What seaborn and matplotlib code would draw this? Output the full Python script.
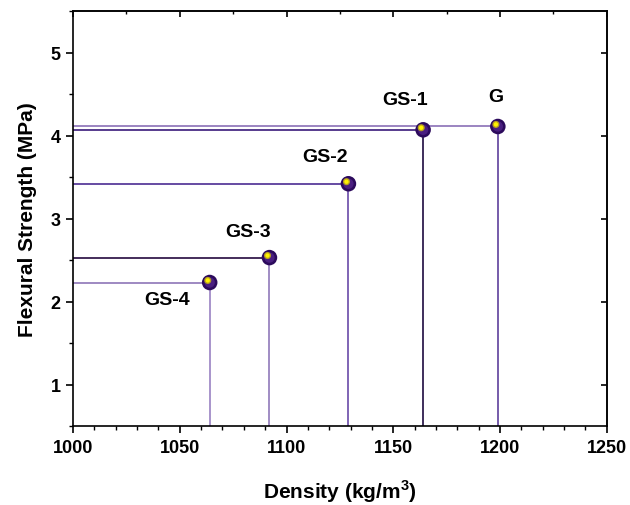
import numpy as np
import matplotlib
matplotlib.use('Agg')
import matplotlib.pyplot as plt
import seaborn as sns
from matplotlib.ticker import MultipleLocator
import pandas as pd

# data
samples = ['G', 'GS-1', 'GS-2', 'GS-3', 'GS-4']
density = [1199, 1164, 1129, 1092, 1064]
strength = [4.11, 4.07, 3.42, 2.53, 2.23]

# drop-line colours per sample (vertical, horizontal)
vcolors = ['#5e3f9c', '#1e0a40', '#6a4aa8', '#9079ba', '#9a82c2']
hcolors = ['#8a70b6', '#3a1a7a', '#4c2c92', '#24083e', '#8e76b8']

# label offsets in pixels from each point
label_off = [(-2, 30), (-18, 30), (-23, 27), (-21, 26), (-43, -17)]

sns.set_theme(style='white')
plt.rcParams['font.family'] = ['Liberation Sans', 'DejaVu Sans']
plt.rcParams['font.weight'] = 'bold'
plt.rcParams['text.color'] = 'black'
plt.rcParams['axes.labelcolor'] = 'black'
plt.rcParams['xtick.color'] = 'black'
plt.rcParams['ytick.color'] = 'black'
plt.rcParams['mathtext.fontset'] = 'custom'
plt.rcParams['mathtext.rm'] = 'Liberation Sans:bold'
plt.rcParams['mathtext.bf'] = 'Liberation Sans:bold'

df = pd.DataFrame({'sample': samples, 'density': density, 'strength': strength})

fig = plt.figure(figsize=(6.3, 5.06), dpi=100)
ax = fig.add_axes([0.116, 0.156, 0.847, 0.820])

xmin, xmax = 1000, 1250
ymin, ymax = 0.5, 5.5

for i, row in df.iterrows():
    ax.vlines(row['density'], ymin, row['strength'], color=vcolors[i], lw=1.2, zorder=2)
    ax.hlines(row['strength'], xmin, row['density'], color=hcolors[i], lw=1.2, zorder=2)

# sphere-like markers: dark base, soft mid tone, yellow highlight
sns.scatterplot(data=df, x='density', y='strength', s=125, color='#2c0a5c',
                edgecolor='none', ax=ax, zorder=3, legend=False)
sns.scatterplot(data=df, x='density', y='strength', s=55, color='#4a1f80',
                edgecolor='none', ax=ax, zorder=4, legend=False)
hx = [d - 0.9 for d in density]
hy = [s + 0.025 for s in strength]
ax.scatter(hx, hy, s=26, color='#b8a020', edgecolor='none', zorder=5)
ax.scatter(hx, hy, s=10, color='#fff200', edgecolor='none', zorder=6)

for i, row in df.iterrows():
    ax.annotate(row['sample'], (row['density'], row['strength']),
                xytext=label_off[i], textcoords='offset pixels',
                ha='center', va='center', fontsize=14, fontweight='bold')

ax.set_xlim(xmin, xmax)
ax.set_ylim(ymin, ymax)
ax.xaxis.set_major_locator(MultipleLocator(50))
ax.xaxis.set_minor_locator(MultipleLocator(10))
ax.yaxis.set_major_locator(MultipleLocator(1))
ax.yaxis.set_minor_locator(MultipleLocator(0.5))

ax.set_xlabel(r'Density (kg/m$^{3}$)', fontsize=15, fontweight='bold', labelpad=16)
ax.set_ylabel('Flexural Strength (MPa)', fontsize=15, fontweight='bold', labelpad=10)

for sp in ax.spines.values():
    sp.set_color('black')
    sp.set_linewidth(1.2)

ax.tick_params(axis='both', which='major', direction='out', length=5, width=1.2,
               labelsize=13, pad=4, bottom=True, left=True)
ax.tick_params(axis='both', which='minor', direction='out', length=3, width=1.0,
               bottom=True, left=True)
for lab in ax.get_xticklabels() + ax.get_yticklabels():
    lab.set_fontweight('bold')

# inward ticks on top and right
top = ax.secondary_xaxis('top')
top.xaxis.set_major_locator(MultipleLocator(50))
top.xaxis.set_minor_locator(MultipleLocator(25))
top.tick_params(which='major', direction='in', length=4, width=1.2, top=True, labeltop=False)
top.tick_params(which='minor', direction='in', length=2, width=1.0, top=True)
right = ax.secondary_yaxis('right')
right.yaxis.set_major_locator(MultipleLocator(1))
right.tick_params(which='major', direction='in', length=4, width=1.2, right=True, labelright=False)
right.tick_params(which='minor', length=0)

fig.savefig('out.png', dpi=100)
